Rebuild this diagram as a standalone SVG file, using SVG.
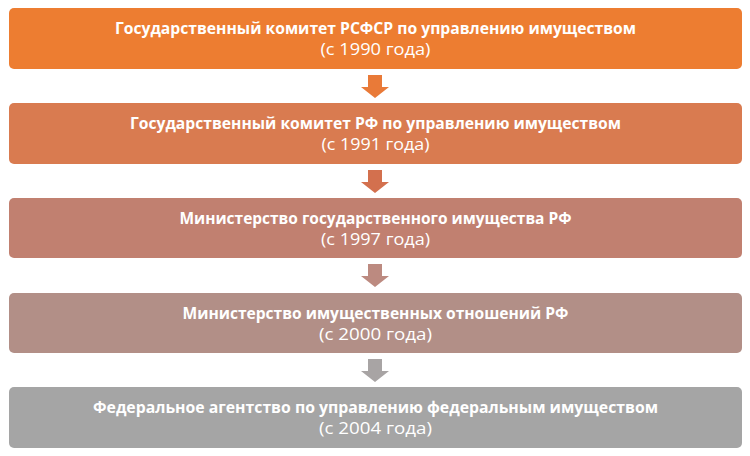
<svg xmlns="http://www.w3.org/2000/svg" width="750" height="456" viewBox="0 0 750 456">
<style>
.box{stroke:none}
.t{font-family:"Open Sans","Noto Sans","DejaVu Sans",sans-serif;fill:#ffffff;text-anchor:middle;font-size:16px}
.b{font-weight:bold}
</style>
<defs>
<path id="arr" d="M-7,0 H7 V12 H14 L0,23 L-14,12 H-7 Z"/>
</defs>
<rect width="750" height="456" fill="#ffffff"/>
<g id="node1">
<rect class="box" x="9" y="8" width="733" height="61" rx="5" fill="#ED7D31"/>
<text class="t b" x="375.5" y="34" textLength="521" lengthAdjust="spacingAndGlyphs">Государственный комитет РСФСР по управлению имуществом</text>
<text class="t" x="375.5" y="55" textLength="110" lengthAdjust="spacingAndGlyphs">(с 1990 года)</text>
</g>
<g id="node2">
<rect class="box" x="9" y="103" width="733" height="61" rx="5" fill="#D97B50"/>
<text class="t b" x="375.5" y="129" textLength="491" lengthAdjust="spacingAndGlyphs">Государственный комитет РФ по управлению имуществом</text>
<text class="t" x="375.5" y="150" textLength="108" lengthAdjust="spacingAndGlyphs">(с 1991 года)</text>
</g>
<g id="node3">
<rect class="box" x="9" y="198" width="733" height="60" rx="5" fill="#C18070"/>
<text class="t b" x="375.5" y="224" textLength="392" lengthAdjust="spacingAndGlyphs">Министерство государственного имущества РФ</text>
<text class="t" x="375.5" y="245" textLength="109" lengthAdjust="spacingAndGlyphs">(с 1997 года)</text>
</g>
<g id="node4">
<rect class="box" x="9" y="293" width="733" height="60" rx="5" fill="#B28F87"/>
<text class="t b" x="375.5" y="319" textLength="386" lengthAdjust="spacingAndGlyphs">Министерство имущественных отношений РФ</text>
<text class="t" x="375.5" y="340" textLength="113" lengthAdjust="spacingAndGlyphs">(с 2000 года)</text>
</g>
<g id="node5">
<rect class="box" x="9" y="387" width="733" height="61" rx="5" fill="#A5A5A5"/>
<text class="t b" x="375.5" y="413" textLength="565" lengthAdjust="spacingAndGlyphs">Федеральное агентство по управлению федеральным имуществом</text>
<text class="t" x="375.5" y="434" textLength="113" lengthAdjust="spacingAndGlyphs">(с 2004 года)</text>
</g>
<g id="connectors">
<use href="#arr" x="375" y="75" fill="#E97A38"/>
<use href="#arr" x="375" y="170" fill="#D3704E"/>
<use href="#arr" x="375" y="264" fill="#BC8A80"/>
<use href="#arr" x="375" y="359" fill="#A8A4A4"/>
</g>
</svg>
